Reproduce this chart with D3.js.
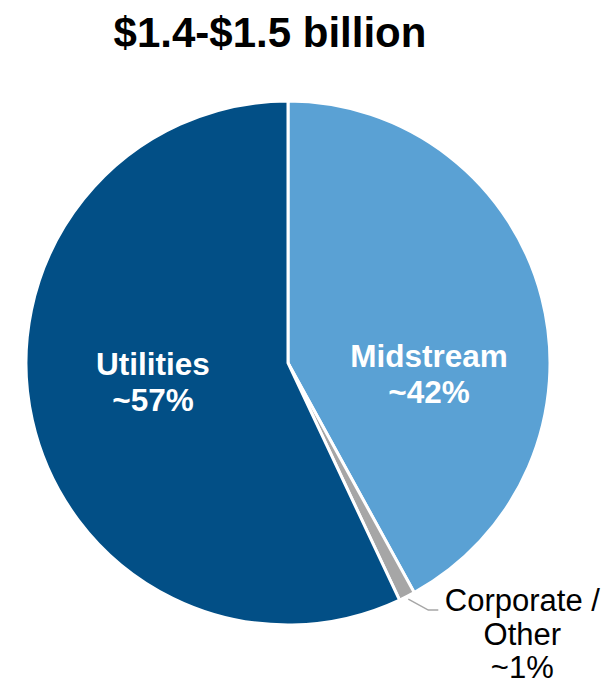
<!DOCTYPE html>
<html>
<head>
<meta charset="utf-8">
<script src="https://cdn.jsdelivr.net/npm/d3@7"></script>
<style>
  body { margin: 0; background: #fff; }
  text { font-family: Arial, "Liberation Sans", sans-serif; }
</style>
</head>
<body>
<div id="chart"></div>
<script>
// data
var segments = ["Midstream", "Corporate / Other", "Utilities"];
var shares = [42, 1, 57];
var shareLabels = ["~42%", "~1%", "~57%"];
var colors = ["#5aa1d4", "#a6a6a6", "#024f86"];
var title = "$1.4-$1.5 billion";

var w = 607, h = 685;
var cx = 288, cy = 363, radius = 262;

var svg = d3.select("#chart").append("svg")
    .attr("width", w)
    .attr("height", h);

svg.append("text")
    .attr("x", 270)
    .attr("y", 47)
    .attr("text-anchor", "middle")
    .style("font-size", "42px")
    .style("font-weight", "bold")
    .text(title);

var data = segments.map(function(s, i) {
  return { name: s, value: shares[i], label: shareLabels[i], color: colors[i] };
});

var pie = d3.pie().sort(null).value(function(d) { return d.value; });
var arc = d3.arc().innerRadius(0).outerRadius(radius);

var g = svg.append("g")
    .attr("transform", "translate(" + cx + "," + cy + ")");

var arcs = pie(data);

g.selectAll("path.slice")
  .data(arcs)
  .enter().append("path")
    .attr("class", "slice")
    .attr("d", arc)
    .attr("fill", function(d) { return d.data.color; })
    .attr("stroke", "#fff")
    .attr("stroke-width", 3)
    .attr("stroke-linejoin", "miter");

// inside labels for the two big slices
var inner = [
  { idx: 0, x: 141, y: 4 },   // Midstream
  { idx: 2, x: -135, y: 12 }  // Utilities
];
inner.forEach(function(p) {
  var d = arcs[p.idx].data;
  var t = g.append("text")
      .attr("text-anchor", "middle")
      .attr("fill", "#fff")
      .style("font-size", "31.5px")
      .style("font-weight", "bold");
  t.append("tspan").attr("x", p.x).attr("y", p.y).text(d.name);
  t.append("tspan").attr("x", p.x).attr("y", p.y + 36).text(d.label);
});

// leader line and outside label for the small slice
var small = arcs[1];
var mid = (small.startAngle + small.endAngle) / 2;
var r0 = radius + 3;
var start = [Math.sin(mid) * r0, -Math.cos(mid) * r0];
var elbow = [start[0] + 20, start[1] + 11];
var end = [elbow[0] + 10, elbow[1]];

g.append("polyline")
    .attr("points", [start, elbow, end].map(function(p) { return p.join(","); }).join(" "))
    .attr("fill", "none")
    .attr("stroke", "#a6a6a6")
    .attr("stroke-width", 1.5);

var lx = end[0] + 84;
var ot = g.append("text")
    .attr("text-anchor", "middle")
    .attr("fill", "#000")
    .style("font-size", "31px");
["Corporate /", "Other", small.data.label].forEach(function(line, i) {
  ot.append("tspan").attr("x", lx).attr("y", end[1] + 1 + i * 33.5).text(line);
});
</script>
</body>
</html>
